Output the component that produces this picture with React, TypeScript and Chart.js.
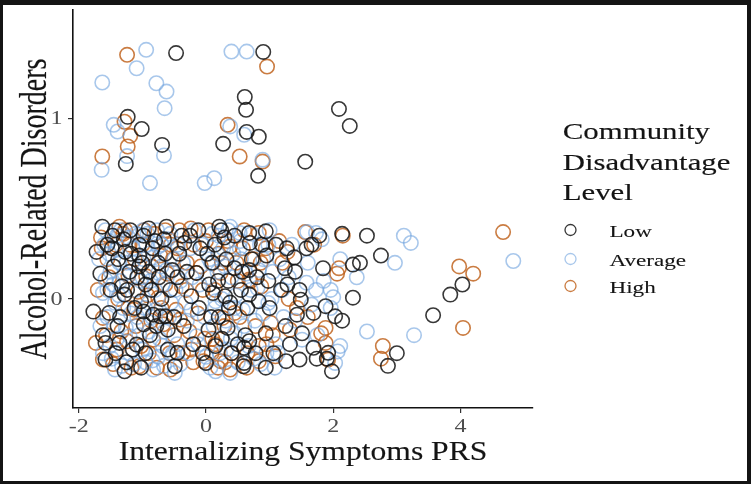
import React, { useEffect, useRef } from "react";
import { Chart, registerables } from "chart.js";

Chart.register(...registerables);

// ---------- data ----------
const seriesNames = ["Low", "Average", "High"];
const xTicks = [-2, 0, 2, 4];
const yTicks = [0, 1];
const xTitle = "Internalizing Symptoms PRS";
const yTitle = "Alcohol-Related Disorders";
const legendTitle = ["Community", "Disadvantage", "Level"];

const lowPoints = [
  [-1.23, 1.007], [-1.01, 0.94], [-1.26, 0.747], [-0.69, 0.852], [-0.47, 1.36], [0.9, 1.366], [0.61, 1.117], [0.63, 1.046],
  [0.64, 0.924], [0.83, 0.897], [0.27, 0.858], [0.82, 0.681], [1.56, 0.759], [2.09, 1.051], [2.26, 0.957],
  [2.53, 0.35], [2.75, 0.24], [3.57, -0.09], [3.84, 0.024], [4.03, 0.08], [3.0, -0.3], [2.86, -0.37], [2.14, 0.36],
  [2.31, 0.19], [2.42, 0.2], [2.31, 0.007], [2.14, -0.12], [1.98, -0.4], [1.84, 0.17], [1.9, -0.33], [1.78, 0.35], [1.74, -0.33],
  [-1.63, 0.4], [-1.43, 0.38], [-1.19, 0.38], [-0.9, 0.39], [-0.62, 0.4], [-0.38, 0.35], [0.21, 0.4], [0.24, 0.38], [0.68, 0.365], [0.94, 0.374],
  [-1.48, 0.28], [-1.27, 0.26], [-1.05, 0.24], [-0.84, 0.28], [-0.64, 0.25], [-0.34, 0.31], [-0.09, 0.28], [0.29, 0.34], [0.69, 0.31],
  [0.95, 0.24], [1.27, 0.28], [1.39, 0.23], [1.58, 0.28], [1.66, 0.3], [-1.47, 0.35], [-1.29, 0.33], [-0.98, 0.35],
  [-1.66, 0.14], [-1.45, 0.18], [-1.05, 0.18], [-0.75, 0.2], [-0.53, 0.16], [-0.15, 0.144], [0.05, 0.08], [0.19, 0.1], [0.45, 0.17],
  [0.68, 0.16], [1.24, 0.17], [1.28, 0.08], [1.47, 0.05], [-1.32, 0.07], [-1.24, 0.05],
  [-1.77, -0.07], [-1.52, -0.077], [-1.02, -0.013], [-0.98, -0.07], [-0.83, -0.087], [-0.64, -0.096], [-0.23, 0.015], [-0.11, -0.05],
  [0.11, 0.033], [0.3, 0.015], [0.36, -0.05], [0.68, 0.024], [0.83, -0.013], [1.49, -0.004], [1.69, -0.077], [1.88, -0.04], [2.03, -0.096],
  [1.43, -0.087], [-1.28, 0.024], [-0.72, -0.096],
  [-1.39, -0.15], [-0.98, -0.14], [-0.6, -0.17], [0.04, -0.17], [0.34, -0.16], [0.68, -0.234], [0.94, -0.19], [1.51, -0.19], [-1.58, -0.243],
  [-1.09, -0.252], [-0.45, -0.298], [0.15, -0.26], [0.6, -0.27], [1.69, -0.27], [1.92, -0.298], [-1.36, -0.243],
  [-1.58, -0.335], [-1.28, -0.4], [-1.02, -0.38], [-0.49, -0.372], [0.0, -0.354], [0.59, -0.372], [0.6, -0.354], [0.94, -0.38], [1.26, -0.344], [1.47, -0.335],
  [-1.5, 0.05], [-1.35, -0.1], [-1.2, 0.15], [-1.15, -0.28], [-1.05, 0.3], [-0.95, 0.08], [-0.88, -0.2], [-0.8, 0.32], [-0.7, 0.0], [-0.6, -0.28],
  [-0.45, 0.12], [-0.35, -0.15], [-0.25, 0.35], [0.1, 0.2], [0.2, -0.1], [0.35, 0.1], [0.4, -0.3], [0.55, 0.05], [0.62, -0.2], [0.8, 0.12],
  [1.0, -0.05], [1.1, 0.3], [1.25, -0.15], [1.4, 0.15],
  [-1.72, 0.26], [-1.62, -0.2], [-1.55, 0.3], [-1.42, -0.3], [-1.38, 0.22], [-1.25, -0.35], [-1.18, 0.25], [-1.12, -0.05], [-1.08, 0.12],
  [-1.0, 0.2], [-0.95, -0.3], [-0.9, 0.15], [-0.86, 0.05], [-0.78, -0.15], [-0.74, 0.12], [-0.66, 0.33], [-0.56, 0.05], [-0.5, -0.1],
  [-0.42, 0.25], [-0.3, 0.15], [-0.2, -0.25], [-0.12, 0.38], [-0.05, -0.3], [0.02, 0.25], [0.08, -0.1], [0.14, 0.3], [0.25, -0.22],
  [0.32, 0.22], [0.38, -0.02], [0.45, 0.35], [0.5, -0.25], [0.57, 0.15], [0.65, -0.05], [0.72, 0.22], [0.78, -0.3], [0.88, 0.3],
  [0.98, 0.1], [1.06, -0.3], [1.18, 0.05], [1.32, -0.25],
];

const averagePoints = [
  [-0.94, 1.378], [-1.09, 1.276], [-1.63, 1.197], [-0.78, 1.193], [-0.62, 1.147], [-0.65, 1.055], [-1.45, 0.963], [-1.39, 0.926], [-1.24, 0.79],
  [-1.64, 0.714], [-0.88, 0.641], [-0.66, 0.794], [-0.02, 0.641], [0.13, 0.668], [0.4, 1.368], [0.64, 1.368], [0.38, 0.954], [0.6, 0.908], [0.89, 0.77],
  [3.11, 0.35], [3.22, 0.31], [4.83, 0.21], [2.97, 0.2], [2.53, -0.18], [3.27, -0.2], [1.59, 0.37], [1.82, 0.33], [2.11, 0.22], [2.37, 0.12],
  [2.0, 0.01], [2.11, -0.26],
  [-0.99, 0.38], [-1.05, 0.355], [0.38, 0.4], [0.53, 0.365], [1.73, 0.365], [-1.52, 0.25], [-0.94, 0.3], [-0.75, 0.29], [0.19, 0.245], [0.53, 0.28],
  [0.98, 0.3], [-1.58, 0.107], [-1.36, 0.2], [-0.75, 0.144], [0.08, 0.2], [0.3, 0.18], [0.83, 0.16], [1.58, 0.09], [1.73, 0.05], [1.96, 0.05],
  [-1.62, 0.033], [-1.43, -0.022], [-0.9, -0.022], [-0.23, -0.059], [0.15, -0.013], [0.98, -0.022], [1.66, -0.031], [1.96, -0.05],
  [-1.51, -0.26], [-1.2, -0.206], [-0.68, -0.26], [-0.15, -0.206], [0.45, -0.19], [1.13, -0.298], [2.07, -0.29], [1.51, -0.225],
  [-1.43, -0.39], [-0.83, -0.39], [-0.49, -0.409], [0.15, -0.4], [0.38, -0.409], [2.03, -0.354],
  [-1.6, 0.3], [-1.55, 0.05], [-1.5, 0.15], [-1.45, -0.15], [-1.4, 0.35], [-1.35, 0.1], [-1.3, -0.05], [-1.25, 0.2], [-1.2, -0.3], [-1.15, 0.28],
  [-1.1, 0.05], [-1.05, -0.2], [-1.0, 0.12], [-0.95, -0.35], [-0.9, 0.25], [-0.85, -0.1], [-0.8, 0.05], [-0.75, -0.32], [-0.7, 0.18], [-0.65, -0.18],
  [-0.6, 0.33], [-0.55, -0.02], [-0.5, 0.22], [-0.45, -0.25], [-0.4, 0.1], [-0.3, -0.12], [-0.25, 0.28], [-0.1, 0.08], [0.0, -0.32], [0.05, 0.22],
  [0.12, -0.15], [0.2, 0.35], [0.25, 0.0], [0.32, -0.28], [0.4, 0.12], [0.45, -0.05], [0.55, 0.22], [0.6, -0.15], [0.7, 0.05], [0.75, -0.33],
  [0.85, 0.3], [0.9, -0.08], [1.05, 0.15], [1.1, -0.25], [1.2, 0.05], [1.35, 0.3], [1.4, -0.12], [1.6, 0.2], [1.75, -0.2], [1.85, 0.1],
  [-1.68, 0.22], [-1.66, -0.15], [-1.62, -0.3], [-1.58, 0.38], [-1.55, -0.1], [-1.52, 0.32], [-1.48, -0.33], [-1.46, 0.08], [-1.42, 0.27],
  [-1.4, -0.22], [-1.37, 0.02], [-1.34, 0.38], [-1.32, -0.37], [-1.28, 0.14], [-1.26, -0.16], [-1.22, 0.34], [-1.18, -0.08], [-1.16, 0.2],
  [-1.13, -0.36], [-1.1, 0.36], [-1.08, -0.1], [-1.03, 0.1], [-1.0, -0.28], [-0.98, 0.22], [-0.96, -0.05], [-0.92, 0.36], [-0.9, -0.18],
  [-0.87, 0.1], [-0.84, -0.34], [-0.82, 0.23], [-0.79, -0.06], [-0.77, 0.38], [-0.73, -0.22], [-0.7, 0.3], [-0.68, 0.08], [-0.66, -0.37],
  [-0.62, 0.16], [-0.58, -0.1], [-0.56, 0.36], [-0.52, -0.3], [-0.48, 0.05], [-0.44, 0.3], [-0.4, -0.36], [-0.36, 0.2], [-0.32, -0.02],
  [-0.28, -0.3], [-0.22, 0.12], [-0.18, 0.38], [-0.12, -0.25], [-0.06, 0.3], [-0.02, -0.1], [0.03, 0.12], [0.07, -0.38], [0.1, 0.36],
  [0.14, -0.05], [0.18, 0.15], [0.22, -0.3], [0.27, 0.28], [0.31, -0.12], [0.35, 0.38], [0.39, -0.22], [0.43, 0.25], [0.47, 0.02],
  [0.5, -0.35], [0.54, 0.32], [0.58, -0.06], [0.63, 0.14], [0.67, -0.26], [0.72, 0.36], [0.77, -0.12], [0.81, 0.06], [0.86, -0.36],
  [0.9, 0.22], [0.95, -0.3], [1.0, 0.38], [1.03, 0.0], [1.08, -0.38], [1.16, 0.22], [1.22, -0.1], [1.3, 0.12],
];

const highPoints = [
  [-1.24, 1.35], [0.96, 1.285], [0.34, 0.963], [0.53, 0.788], [-1.63, 0.788], [-1.23, 0.843], [-1.19, 0.902], [-1.28, 0.98], [0.89, 0.76],
  [4.67, 0.37], [3.98, 0.18], [4.2, 0.14], [4.04, -0.16], [2.78, -0.26], [2.75, -0.33], [1.56, 0.37], [2.09, 0.17], [2.06, 0.14], [2.15, 0.35],
  [-1.65, 0.34], [-1.36, 0.4], [-0.64, 0.38], [-0.24, 0.39], [0.6, 0.38], [0.83, 0.365], [-1.2, 0.3], [-0.45, 0.28], [0.0, 0.32], [0.38, 0.29],
  [0.94, 0.28], [1.28, 0.26], [-1.22, 0.13], [-0.94, 0.125], [-0.15, 0.144], [0.23, 0.144], [0.87, 0.07], [0.68, 0.107], [-0.64, 0.08], [-0.38, 0.07],
  [-1.62, -0.105], [-1.13, -0.059], [-0.75, 0.006], [-0.41, -0.114], [0.26, -0.105], [0.45, -0.077], [1.02, -0.133], [1.43, -0.05], [1.32, -0.17],
  [1.88, -0.16], [-1.73, -0.243], [-1.24, -0.234], [-0.83, -0.225], [-0.23, -0.28], [0.15, -0.25], [0.83, -0.26], [1.88, -0.243], [1.81, -0.19],
  [1.09, -0.317], [-1.62, -0.335], [-1.05, -0.372], [-0.56, -0.39], [-0.04, -0.344], [0.23, -0.344], [0.38, -0.39], [0.83, -0.344], [1.92, -0.335],
  [-1.55, 0.22], [-1.4, -0.28], [-1.3, 0.36], [-1.1, -0.15], [-1.0, 0.3], [-0.9, -0.3], [-0.85, 0.18], [-0.7, -0.05], [-0.55, 0.3], [-0.5, -0.2],
  [-0.3, 0.2], [-0.2, -0.35], [-0.05, 0.05], [0.1, -0.22], [0.2, 0.25], [0.3, -0.35], [0.5, 0.1], [0.65, -0.3], [0.75, 0.22], [0.95, -0.25],
  [1.15, 0.32], [1.3, 0.0], [1.6, -0.1], [1.7, 0.3],
  [-1.7, 0.05], [-1.64, 0.28], [-1.57, -0.2], [-1.52, 0.12], [-1.46, -0.36], [-1.42, 0.3], [-1.38, 0.0], [-1.33, -0.18], [-1.27, 0.38],
  [-1.22, -0.05], [-1.17, -0.38], [-1.12, 0.22], [-1.07, 0.04], [-1.02, -0.26], [-0.97, 0.38], [-0.92, 0.02], [-0.86, -0.12], [-0.81, 0.36],
  [-0.77, -0.38], [-0.72, 0.24], [-0.67, -0.14], [-0.61, 0.14], [-0.57, -0.3], [-0.52, 0.22], [-0.47, -0.06], [-0.42, 0.38], [-0.36, -0.3],
  [-0.31, 0.05], [-0.26, -0.18], [-0.19, 0.3], [-0.13, -0.08], [-0.08, 0.18], [-0.02, -0.22], [0.04, 0.38], [0.09, -0.3], [0.14, 0.05],
  [0.19, -0.38], [0.25, 0.2], [0.29, -0.15], [0.34, 0.32], [0.41, -0.3], [0.48, 0.2], [0.53, -0.1], [0.58, 0.28], [0.64, -0.38], [0.7, 0.1],
  [0.78, -0.15], [0.86, 0.2], [1.05, -0.2], [1.2, 0.2],
];

const seriesPoints = [lowPoints, averagePoints, highPoints];
const seriesColors = ["rgba(20,20,20,0.85)", "rgba(115,165,222,0.62)", "rgba(190,95,25,0.82)"];

const X_MIN = -2.09;
const X_MAX = 5.14;
const Y_MIN = -0.603;
const Y_MAX = 1.598;

const FONT = '"Liberation Serif", "Times New Roman", serif';

function drawStretched(ctx: CanvasRenderingContext2D, text: string, x: number, y: number, align: string, sx: number, weight = 0) {
  const w = ctx.measureText(text).width * sx;
  let left = x;
  if (align === "center") left = x - w / 2;
  else if (align === "right") left = x - w;
  ctx.save();
  ctx.translate(left, y);
  ctx.scale(sx, 1);
  ctx.textAlign = "left";
  ctx.fillText(text, 0, 0);
  if (weight > 0) {
    ctx.lineWidth = weight;
    ctx.strokeStyle = ctx.fillStyle as string;
    ctx.strokeText(text, 0, 0);
  }
  ctx.restore();
}

const textPlugin = {
  id: "serifText",
  afterDraw(chart: any) {
    const ctx: CanvasRenderingContext2D = chart.ctx;
    const xs = chart.scales.x;
    const ys = chart.scales.y;
    ctx.save();
    ctx.textBaseline = "alphabetic";

    // tick labels
    ctx.fillStyle = "#4d4d4d";
    ctx.font = `18.5px ${FONT}`;
    for (const t of xs.ticks) {
      drawStretched(ctx, String(t.label), xs.getPixelForValue(t.value), 432, "center", 1.3);
    }
    for (const t of ys.ticks) {
      drawStretched(ctx, String(t.label), 62.5, ys.getPixelForValue(t.value) + 6.3, "right", 1.3);
    }

    // axis titles
    ctx.fillStyle = "#141414";
    ctx.font = `27px ${FONT}`;
    drawStretched(ctx, xTitle, (chart.chartArea.left + chart.chartArea.right) / 2, 460, "center", 1.17, 0.15);

    ctx.save();
    ctx.font = `28px ${FONT}`;
    ctx.translate(45.5, (chart.chartArea.top + chart.chartArea.bottom) / 2);
    ctx.rotate(-Math.PI / 2);
    ctx.scale(1, 1.33);
    ctx.textAlign = "center";
    ctx.fillText(yTitle, 0, 0);
    ctx.lineWidth = 0.15;
    ctx.strokeStyle = "#141414";
    ctx.strokeText(yTitle, 0, 0);
    ctx.restore();

    // legend
    ctx.font = `22.5px ${FONT}`;
    const titleBase = [139.3, 169.6, 200];
    legendTitle.forEach((line, i) => drawStretched(ctx, line, 562.7, titleBase[i], "left", 1.37, 0.15));
    const itemCenters = [230, 259, 286];
    const itemBase = [236.7, 265.7, 292.7];
    ctx.font = `16.5px ${FONT}`;
    chart.data.datasets.forEach((ds: any, i: number) => {
      ctx.beginPath();
      ctx.arc(570.5, itemCenters[i], 5.5, 0, Math.PI * 2);
      ctx.strokeStyle = ds.borderColor;
      ctx.lineWidth = 1.3;
      ctx.stroke();
      ctx.fillStyle = "#141414";
      drawStretched(ctx, ds.label, 609.5, itemBase[i], "left", 1.4, 0.1);
    });
    ctx.restore();
  },
};

export default function App() {
  const canvasRef = useRef<HTMLCanvasElement | null>(null);

  useEffect(() => {
    if (!canvasRef.current) return;
    const chart = new Chart(canvasRef.current, {
      type: "scatter",
      data: {
        datasets: seriesNames.map((name, i) => ({
          label: name,
          data: seriesPoints[i].map(([x, y]) => ({ x, y })),
          borderColor: seriesColors[i],
          backgroundColor: "rgba(0,0,0,0)",
          pointRadius: 7.2,
          pointHoverRadius: 7.2,
          borderWidth: 1.6,
          pointStyle: "circle",
        })),
      },
      options: {
        responsive: false,
        animation: false,
        events: [],
        layout: { padding: { top: 10, right: 218, left: 0, bottom: 0 } },
        plugins: { legend: { display: false }, tooltip: { enabled: false } },
        scales: {
          x: {
            type: "linear",
            min: X_MIN,
            max: X_MAX,
            afterBuildTicks: (s: any) => {
              s.ticks = xTicks.map((v) => ({ value: v }));
            },
            afterFit: (s: any) => {
              s.height = 76;
            },
            ticks: { display: false },
            grid: { drawOnChartArea: false, drawTicks: true, tickLength: 5, color: "#333", lineWidth: 1.2 },
            border: { display: true, color: "#111", width: 1.6 },
          },
          y: {
            type: "linear",
            min: Y_MIN,
            max: Y_MAX,
            afterBuildTicks: (s: any) => {
              s.ticks = yTicks.map((v) => ({ value: v }));
            },
            afterFit: (s: any) => {
              s.width = 73;
            },
            ticks: { display: false },
            grid: { drawOnChartArea: false, drawTicks: true, tickLength: 5, color: "#333", lineWidth: 1.2 },
            border: { display: true, color: "#111", width: 1.6 },
          },
        },
      },
      plugins: [textPlugin],
    });
    return () => chart.destroy();
  }, []);

  return (
    <div style={{ position: "fixed", left: 0, top: 0, width: 751, height: 484, background: "#fff" }}>
      <canvas ref={canvasRef} width={751} height={484} style={{ position: "absolute", left: 0, top: 0 }} />
      <div
        style={{
          position: "absolute",
          left: 0,
          top: 0,
          width: 751,
          height: 484,
          boxSizing: "border-box",
          borderStyle: "solid",
          borderColor: "#141414",
          borderWidth: "5px 4px 3px 3px",
          pointerEvents: "none",
        }}
      />
    </div>
  );
}
